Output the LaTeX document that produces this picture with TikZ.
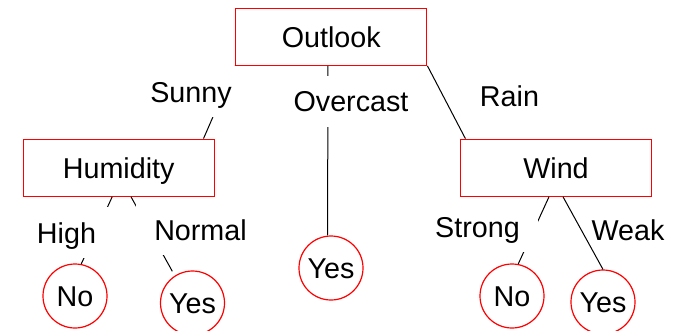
\documentclass[tikz,border=0pt]{standalone}
\usepackage{fontspec}
\setmainfont{Liberation Sans}
\begin{document}
\begin{tikzpicture}[x=1bp, y=-1bp, line width=1bp,
  font=\fontsize{28.7bp}{34bp}\selectfont,
  attr/.style={draw=red, line width=1.2bp, rectangle, minimum width=191bp,
               minimum height=57bp, text height=21bp, text depth=0pt},
  leaf/.style={draw=red, line width=1.2bp, circle, minimum size=64bp,
               inner sep=0pt, text height=21bp, text depth=0pt},
  val/.style={fill=white, anchor=base, inner xsep=18bp, inner ysep=0pt,
              text height=36bp, text depth=15bp}]

\useasboundingbox (0,0) rectangle (680,330);

% Attribute boxes first, the branch labels have to sit on top of them.
\node[attr] (Outlook)  at (331.3,36.7)  {Outlook};
\node[attr] (Humidity) at (118.7,167.7) {Humidity};
\node[attr] (Wind)     at (556,167.7)   {Wind};

% Leaves
\foreach \leaf/\x/\y/\ltext in {noHigh/75/296/No, yesNormal/192.5/303/Yes,
    yesOvercast/331/268/Yes, noStrong/512/296/No, yesWeak/603/302/Yes}
  \node[leaf] (\leaf) at (\x,\y) {\ltext};

% Branches, drawn whole; the white labels cut them afterwards.
\draw
  % root
  (Outlook.south west) -- ([xshift=-11.3bp]Humidity.north east)
  ([xshift=-3.5bp]Outlook.south) -- ([xshift=-3.3bp]yesOvercast.north)
  (Outlook.south east) -- ([xshift=5.5bp]Wind.north west)
  % humidity
  ([xshift=-6.5bp]Humidity.south) -- (noHigh.79)
  % wind
  ([xshift=-7bp]Wind.south) -- (noStrong.79)
;
\draw[shorten >=5bp] ([xshift=12.3bp]Humidity.south) -- (yesNormal.123);

% Branch labels
\foreach \lbl/\x/\y/\vtext in {sunny/191/102/Sunny, overcast/351/111.5/Overcast,
    rain/509.5/106/Rain, high/66.5/243/High, normal/200.5/240/Normal,
    strong/477.5/237/Strong, weak/628/240/Weak}
  \node[val] (\lbl) at (\x,\y) {\vtext};

% The weak branch is not cut by its label, so it goes on top.
\draw ([xshift=7bp]Wind.south) -- (yesWeak.north);
\end{tikzpicture}
\end{document}
